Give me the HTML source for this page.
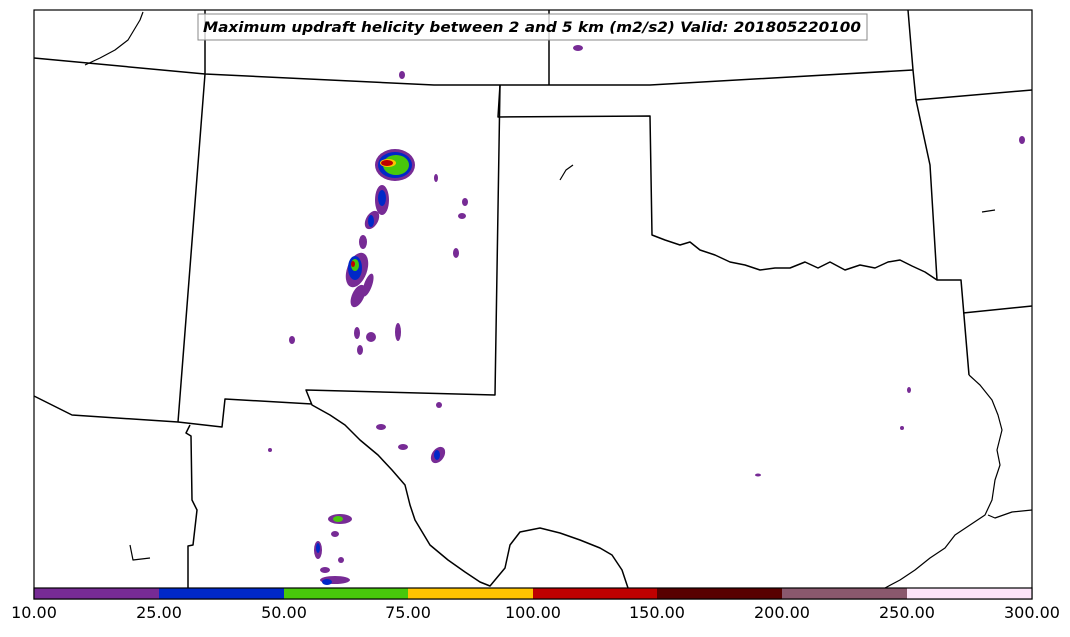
<!DOCTYPE html>
<html><head><meta charset="utf-8"><style>
body{margin:0;background:#fff;width:1070px;height:633px;overflow:hidden;font-family:"DejaVu Sans",sans-serif}
</style></head><body>
<svg width="1070" height="633" viewBox="0 0 1070 633" xmlns="http://www.w3.org/2000/svg">
<rect width="1070" height="633" fill="#fff"/>
<g fill="none" stroke="#000" stroke-width="1.5" stroke-linejoin="round">
<polyline points="34,58 205,74 434,85 650,85 913,70"/>
<polyline points="205,10 205,74 178,422"/>
<polyline points="549,10 549,85"/>
<polyline points="908,10 913,70 916,100 930,165 937,280"/>
<polyline points="916,100 1032,90"/>
<polyline points="963,313 1032,306"/>
<polyline points="500,85 498,117 650,116 652,235 665,240 680,245 690,242 700,250 715,255 730,262 745,265 760,270 775,268 790,268 805,262 818,268 830,262 845,270 860,265 875,268 888,262 900,260 912,266 925,272 937,280 961,280 969,375"/>
<polyline points="500,85 495,395 306,390 312,405 330,415 345,425 360,440 378,455 392,470 405,485 410,505 415,520 430,545 448,560 465,572 480,582 490,586 505,568 510,545 520,532 540,528 560,533 580,540 600,548 612,555 622,570 628,588"/>
<polyline points="34,396 72,415 178,422 222,427 225,399 312,404"/>
<polyline points="190,425 186,433 191,436 192,500 197,510 193,545 188,546 188,588"/>
<polyline stroke-width="1.2" points="969,375 980,385 992,400 998,415 1002,430 997,450 1000,465 995,480 992,500 985,515 970,525 955,535 945,548 930,558 915,570 900,580 885,588"/>
<polyline stroke-width="1.2" points="1032,510 1012,512 995,518 988,515"/>
<polyline stroke-width="1.2" points="85,65 100,58 115,50 128,40 140,20 143,12"/>
<polyline stroke-width="1.2" points="560,180 566,170 573,165"/>
<polyline stroke-width="1.2" points="130,545 133,560 150,558"/>
<polyline stroke-width="1.2" points="982,212 995,210"/>
</g>
<g>
<ellipse cx="395" cy="165" rx="20" ry="16" fill="#772b95"/>
<ellipse cx="395" cy="165" rx="17" ry="13" fill="#0028c8"/>
<ellipse cx="396" cy="165" rx="13" ry="10" fill="#48c80b"/>
<ellipse cx="388" cy="163" rx="8" ry="4" fill="#ffc400"/>
<ellipse cx="387" cy="163" rx="6" ry="3" fill="#bf0000"/>
<ellipse cx="382" cy="200" rx="7" ry="15" fill="#772b95"/>
<ellipse cx="382" cy="198" rx="4" ry="8" fill="#0028c8"/>
<ellipse cx="372" cy="220" rx="6" ry="10" fill="#772b95" transform="rotate(30 372 220)"/>
<ellipse cx="371" cy="221" rx="3" ry="6" fill="#0028c8"/>
<ellipse cx="363" cy="242" rx="4" ry="7" fill="#772b95"/>
<ellipse cx="357" cy="270" rx="10" ry="18" fill="#772b95" transform="rotate(20 357 270)"/>
<ellipse cx="355" cy="268" rx="7" ry="12" fill="#0028c8"/>
<ellipse cx="355" cy="265" rx="4" ry="6" fill="#48c80b"/>
<ellipse cx="353" cy="264" rx="2" ry="3" fill="#bf0000"/>
<ellipse cx="358" cy="296" rx="6" ry="12" fill="#772b95" transform="rotate(25 358 296)"/>
<ellipse cx="368" cy="285" rx="4" ry="12" fill="#772b95" transform="rotate(20 368 285)"/>
<ellipse cx="398" cy="332" rx="3" ry="9" fill="#772b95"/>
<ellipse cx="371" cy="337" rx="5" ry="5" fill="#772b95"/>
<ellipse cx="357" cy="333" rx="3" ry="6" fill="#772b95"/>
<ellipse cx="360" cy="350" rx="3" ry="5" fill="#772b95"/>
<ellipse cx="292" cy="340" rx="3" ry="4" fill="#772b95"/>
<ellipse cx="465" cy="202" rx="3" ry="4" fill="#772b95"/>
<ellipse cx="462" cy="216" rx="4" ry="3" fill="#772b95"/>
<ellipse cx="456" cy="253" rx="3" ry="5" fill="#772b95"/>
<ellipse cx="436" cy="178" rx="2" ry="4" fill="#772b95"/>
<ellipse cx="402" cy="75" rx="3" ry="4" fill="#772b95"/>
<ellipse cx="578" cy="48" rx="5" ry="3" fill="#772b95"/>
<ellipse cx="438" cy="455" rx="6" ry="9" fill="#772b95" transform="rotate(35 438 455)"/>
<ellipse cx="437" cy="455" rx="3" ry="5" fill="#0028c8"/>
<ellipse cx="381" cy="427" rx="5" ry="3" fill="#772b95"/>
<ellipse cx="403" cy="447" rx="5" ry="3" fill="#772b95"/>
<ellipse cx="439" cy="405" rx="3" ry="3" fill="#772b95"/>
<ellipse cx="340" cy="519" rx="12" ry="5" fill="#772b95"/>
<ellipse cx="338" cy="519" rx="5" ry="3" fill="#48c80b"/>
<ellipse cx="335" cy="534" rx="4" ry="3" fill="#772b95"/>
<ellipse cx="318" cy="550" rx="4" ry="9" fill="#772b95"/>
<ellipse cx="318" cy="548" rx="2" ry="5" fill="#0028c8"/>
<ellipse cx="335" cy="580" rx="15" ry="4" fill="#772b95"/>
<ellipse cx="327" cy="582" rx="5" ry="3" fill="#0028c8"/>
<ellipse cx="325" cy="570" rx="5" ry="3" fill="#772b95"/>
<ellipse cx="341" cy="560" rx="3" ry="3" fill="#772b95"/>
<ellipse cx="909" cy="390" rx="2" ry="3" fill="#772b95"/>
<ellipse cx="1022" cy="140" rx="3" ry="4" fill="#772b95"/>
<ellipse cx="758" cy="475" rx="3" ry="1.5" fill="#772b95"/>
<ellipse cx="270" cy="450" rx="2" ry="2" fill="#772b95"/>
<ellipse cx="902" cy="428" rx="2" ry="2" fill="#772b95"/>
</g>
<rect x="34" y="10" width="998" height="589" fill="none" stroke="#000" stroke-width="1.2"/>
<rect x="198" y="14" width="669" height="26" fill="#fff" fill-opacity="0.8" stroke="#888"/>
<text x="532" y="32" text-anchor="middle" font-size="14.5" font-weight="bold" font-style="italic" font-family="DejaVu Sans, sans-serif" textLength="658" lengthAdjust="spacingAndGlyphs">Maximum updraft helicity between 2 and 5 km (m2/s2) Valid: 201805220100</text>
<g>
<rect x="34" y="588" width="125" height="11" fill="#772b95"/>
<rect x="159" y="588" width="125" height="11" fill="#0028c8"/>
<rect x="284" y="588" width="124" height="11" fill="#48c80b"/>
<rect x="408" y="588" width="125" height="11" fill="#ffc400"/>
<rect x="533" y="588" width="124" height="11" fill="#bf0000"/>
<rect x="657" y="588" width="125" height="11" fill="#580000"/>
<rect x="782" y="588" width="125" height="11" fill="#8a586d"/>
<rect x="907" y="588" width="125" height="11" fill="#fce4f8"/>
<rect x="34" y="588" width="998" height="11" fill="none" stroke="#000" stroke-width="1.2"/>
</g>
<g font-size="16" text-anchor="middle" fill="#000" font-family="DejaVu Sans, sans-serif">
<text x="34" y="618">10.00</text><text x="159" y="618">25.00</text><text x="284" y="618">50.00</text>
<text x="408" y="618">75.00</text><text x="533" y="618">100.00</text><text x="657" y="618">150.00</text>
<text x="782" y="618">200.00</text><text x="907" y="618">250.00</text><text x="1032" y="618">300.00</text>
</g>
</svg>
</body></html>
